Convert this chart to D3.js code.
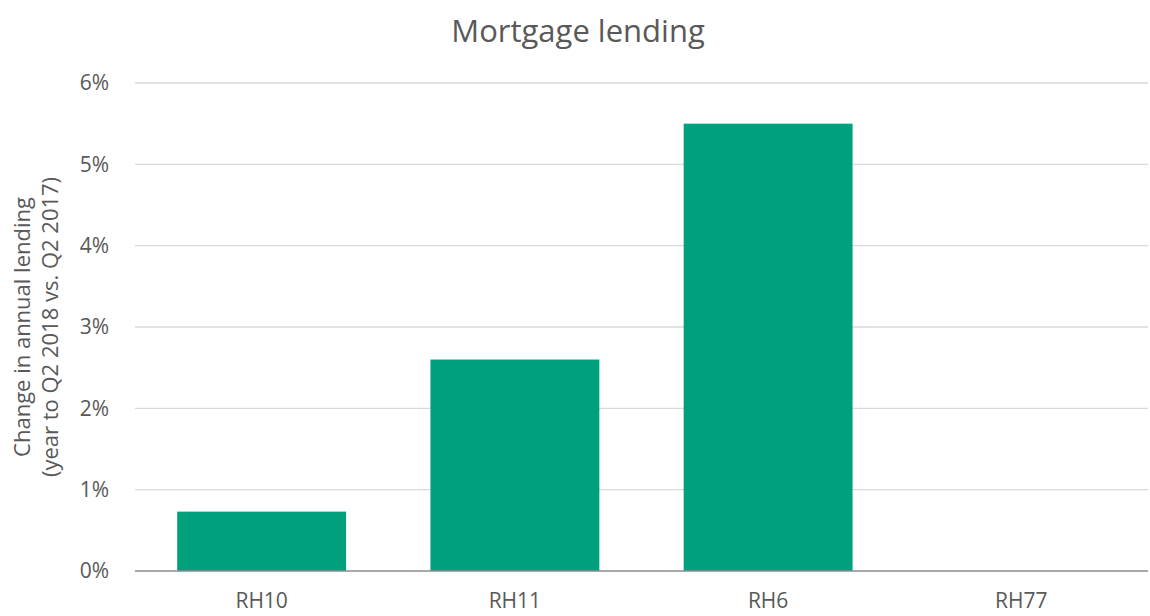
<!DOCTYPE html>
<html>
<head>
<meta charset="utf-8">
<script src="https://cdn.jsdelivr.net/npm/d3@7"></script>
<style>
  body { margin: 0; background: #fff; overflow: hidden; }
  text { font-family: "Open Sans", "Liberation Sans", sans-serif; fill: #595959; }
</style>
</head>
<body>
<div class="chart"></div>
<script>
// chart data
var categories = ["RH10", "RH11", "RH6", "RH77"];
var values = [0.0073, 0.026, 0.055, 0];
var yTicks = [0, 0.01, 0.02, 0.03, 0.04, 0.05, 0.06];

var svgWidth = 1150;
var svgHeight = 616;

var margin = { top: 83, right: 2, bottom: 45, left: 135 };
var width = svgWidth - margin.left - margin.right;
var height = svgHeight - margin.top - margin.bottom;

var svg = d3.select(".chart")
  .append("svg")
  .attr("width", svgWidth)
  .attr("height", svgHeight)
  .style("display", "block");

var chartGroup = svg.append("g")
  .attr("transform", `translate(${margin.left}, ${margin.top})`);

var x = d3.scaleBand()
  .domain(categories)
  .range([0, width])
  .paddingInner(0.333)
  .paddingOuter(0.1667);

var y = d3.scaleLinear()
  .domain([0, 0.06])
  .range([height, 0]);

// gridlines
chartGroup.selectAll(".grid")
  .data(yTicks.slice(1))
  .enter()
  .append("line")
  .attr("x1", 0)
  .attr("x2", width)
  .attr("y1", d => y(d))
  .attr("y2", d => y(d))
  .attr("stroke", "#d9d9d9")
  .attr("stroke-width", 1.3);

// bars
chartGroup.selectAll("rect")
  .data(values)
  .enter()
  .append("rect")
  .attr("x", (d, i) => x(categories[i]))
  .attr("y", d => y(d))
  .attr("width", x.bandwidth())
  .attr("height", d => height - y(d))
  .attr("fill", "#00a07d");

// baseline
chartGroup.append("line")
  .attr("x1", 0)
  .attr("x2", width)
  .attr("y1", y(0))
  .attr("y2", y(0))
  .attr("stroke", "#8c8c8c")
  .attr("stroke-width", 1.3);

// y tick labels
chartGroup.selectAll(".ytick")
  .data(yTicks)
  .enter()
  .append("text")
  .attr("x", -26)
  .attr("y", d => y(d))
  .attr("dy", "0.35em")
  .attr("text-anchor", "end")
  .style("font-size", "21px")
  .text(d => d3.format(".0%")(d));

// x tick labels
chartGroup.selectAll(".xtick")
  .data(categories)
  .enter()
  .append("text")
  .attr("x", d => x(d) + x.bandwidth() / 2)
  .attr("y", height + 37)
  .attr("text-anchor", "middle")
  .style("font-size", "21px")
  .text(d => d);

// title
svg.append("text")
  .attr("x", 578)
  .attr("y", 42)
  .attr("text-anchor", "middle")
  .style("font-size", "31px")
  .text("Mortgage lending");

// y axis title
var yTitle = svg.append("text")
  .attr("transform", `translate(0, ${margin.top + height / 2}) rotate(-90)`)
  .attr("text-anchor", "middle")
  .style("font-size", "22px");
yTitle.append("tspan").attr("x", 0).attr("y", 30).text("Change in annual lending");
yTitle.append("tspan").attr("x", 0).attr("y", 58).text("(year to Q2 2018 vs. Q2 2017)");
</script>
</body>
</html>
